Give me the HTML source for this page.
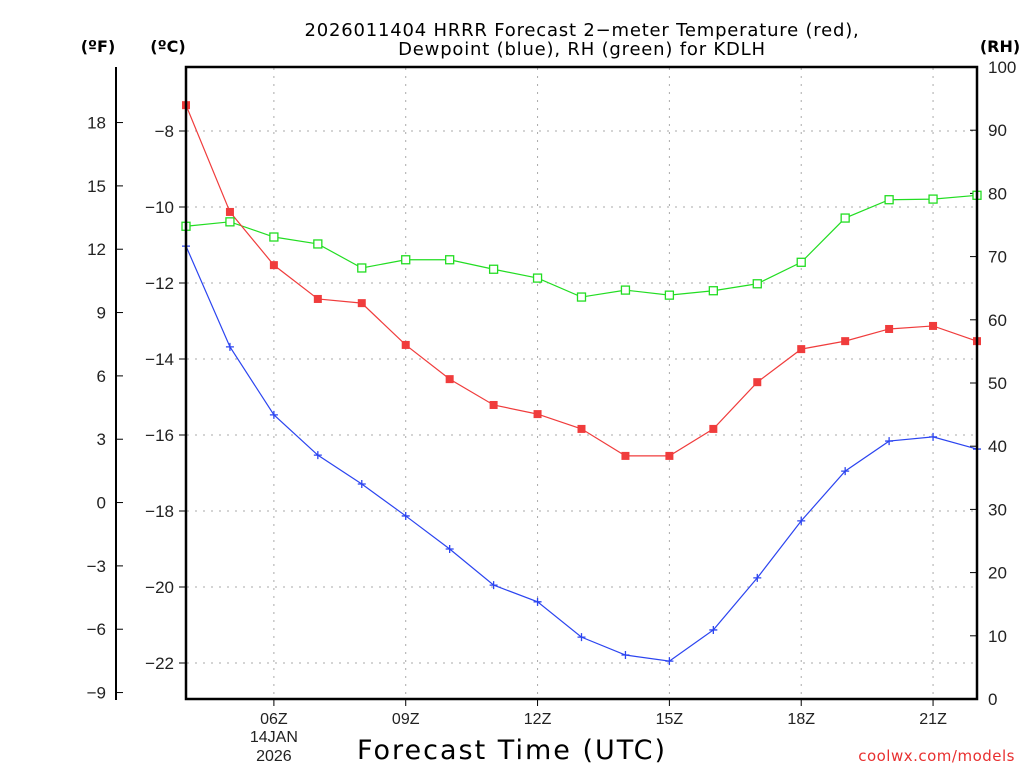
<!DOCTYPE html>
<html><head><meta charset="utf-8"><style>
body{margin:0;background:#fff;}
svg text{font-family:"DejaVu Sans","Liberation Sans",sans-serif;}
svg text.tk{font-family:"Liberation Sans",sans-serif;}
</style></head><body>
<svg id="c" width="1024" height="768" xmlns="http://www.w3.org/2000/svg">
<text x="582" y="36" font-size="18" letter-spacing="0.8" text-anchor="middle" fill="#000">2026011404 HRRR Forecast 2−meter Temperature (red),</text>
<text x="582" y="55" font-size="18" letter-spacing="0.8" text-anchor="middle" fill="#000">Dewpoint (blue), RH (green) for KDLH</text>
<text x="98" y="52" font-size="16" font-weight="bold" text-anchor="middle">(ºF)</text>
<text x="168" y="52" font-size="16" font-weight="bold" text-anchor="middle">(ºC)</text>
<text x="1000" y="52" font-size="16" font-weight="bold" text-anchor="middle">(RH)</text>
<text x="512" y="759" font-size="27" letter-spacing="2" text-anchor="middle">Forecast Time (UTC)</text>
<text x="1015" y="761" font-size="15" letter-spacing="0.5" text-anchor="end" fill="#e83030">coolwx.com/models</text>
<g id="grid"></g><g id="axes"></g><g id="series"></g>
<rect x="186" y="67" width="791" height="632" fill="none" stroke="#000" stroke-width="2.5"/>
<line x1="116" y1="67" x2="116" y2="700" stroke="#000" stroke-width="2"/>
</svg>
<script>
const hours=[4,5,6,7,8,9,10,11,12,13,14,15,16,17,18,19,20,21,22];
const tempC=[-7.32,-10.13,-11.53,-12.42,-12.53,-13.63,-14.53,-15.21,-15.45,-15.84,-16.55,-16.55,-15.84,-14.61,-13.74,-13.53,-13.21,-13.13,-13.53];
const dewC=[-11.03,-13.68,-15.47,-16.53,-17.29,-18.13,-19.0,-19.95,-20.39,-21.32,-21.79,-21.95,-21.13,-19.76,-18.26,-16.95,-16.16,-16.05,-16.37];
const rh=[74.8,75.5,73.1,72.0,68.2,69.5,69.5,68.0,66.6,63.6,64.7,63.9,64.6,65.7,69.1,76.1,79.0,79.1,79.7];
const xTickHours=[6,9,12,15,18,21];
const xTickLabels=["06Z","09Z","12Z","15Z","18Z","21Z"];
const cTicks=[-8,-10,-12,-14,-16,-18,-20,-22];
const fTicks=[18,15,12,9,6,3,0,-3,-6,-9];
const rhTicks=[0,10,20,30,40,50,60,70,80,90,100];
const NS="http://www.w3.org/2000/svg";
const X=h=>186+(h-4)*(791/18);
const YC=c=>131+(-8-c)*38;
const YF=f=>YC((f-32)/1.8);
const YR=r=>699-r*6.32;
function mk(p,t,a){const e=document.createElementNS(NS,t);for(const k in a)e.setAttribute(k,a[k]);p.appendChild(e);return e;}
const G=document.getElementById('grid'),A=document.getElementById('axes'),S=document.getElementById('series');
xTickHours.forEach((h,i)=>{
 const l=mk(G,'line',{x1:X(h),x2:X(h),y1:68,y2:699,stroke:'#aaa','stroke-dasharray':'2 6'});
 
 
 const t=mk(A,'line',{x1:X(h),x2:X(h),y1:699,y2:706,stroke:'#000'});
 
 
 const tx=mk(A,'text',{x:X(h),y:724,'font-size':16,'text-anchor':'middle',fill:'#222',class:'tk'});tx.textContent=xTickLabels[i];
 
 
});
[["14JAN",742],["2026",761]].forEach(([s,y])=>{const t=mk(A,'text',{x:X(6),y:y,'font-size':16,'text-anchor':'middle',fill:'#222',class:'tk'});t.textContent=s;
 
 });
cTicks.forEach(c=>{
 const l=mk(G,'line',{x1:187,x2:977,y1:YC(c),y2:YC(c),stroke:'#aaa','stroke-dasharray':'2 6'});
 
 
 mk(A,'line',{x1:179,x2:186,y1:YC(c),y2:YC(c),stroke:'#000'});
 const t=mk(A,'text',{x:174,y:YC(c)+6,'font-size':17,'text-anchor':'end',fill:'#222',class:'tk'});t.textContent=(c<0?'−':'')+Math.abs(c);
 
 
});
fTicks.forEach(f=>{
 mk(A,'line',{x1:116,x2:123,y1:YF(f),y2:YF(f),stroke:'#000'});
 const t=mk(A,'text',{x:106,y:YF(f)+6,'font-size':17,'text-anchor':'end',fill:'#222',class:'tk'});t.textContent=(f<0?'−':'')+Math.abs(f);
 
 
});
rhTicks.forEach(r=>{
 mk(A,'line',{x1:970,x2:977,y1:YR(r),y2:YR(r),stroke:'#000'});
 const t=mk(A,'text',{x:988,y:YR(r)+6,'font-size':17,fill:'#222',class:'tk'});t.textContent=r;
 
 
});
function line(vals,yf,col,name){
 const p=mk(S,'polyline',{points:vals.map((v,i)=>X(hours[i])+','+yf(v)).join(' '),fill:'none',stroke:col,'stroke-width':1.2});
 
 
}
line(rh,YR,'#22dd22','rh');
line(tempC,YC,'#f03c3c','temperature');
line(dewC,YC,'#2b44f0','dewpoint');
rh.forEach((v,i)=>{const r=mk(S,'rect',{x:X(hours[i])-4,y:YR(v)-4,width:8,height:8,fill:'#fff',stroke:'#22dd22','stroke-width':1.3});
 
 });
tempC.forEach((v,i)=>{const r=mk(S,'rect',{x:X(hours[i])-4,y:YC(v)-4,width:8,height:8,fill:'#f03c3c'});
 
 });
dewC.forEach((v,i)=>{const x=X(hours[i]),y=YC(v);const p=mk(S,'path',{d:`M${x-4},${y}H${x+4}M${x},${y-4}V${y+4}`,stroke:'#2b44f0','stroke-width':1.3});
 
 });
</script>
</body></html>
